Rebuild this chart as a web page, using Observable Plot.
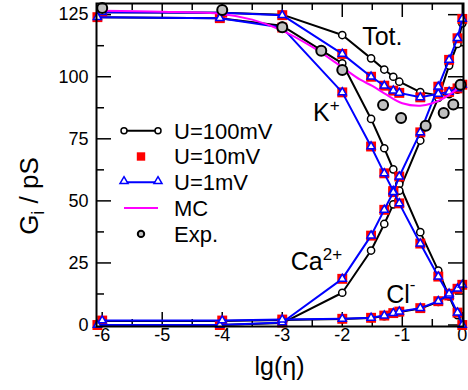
<!DOCTYPE html>
<html><head><meta charset="utf-8">
<script src="https://cdn.jsdelivr.net/npm/d3@7"></script>
<script src="https://cdn.jsdelivr.net/npm/@observablehq/plot@0.6"></script>
<style>
body{margin:0;background:#fff;}
#chart{position:relative;width:468px;height:390px;}
</style></head><body><div id="chart"></div>
<script>
// x positions lg(eta)
const xs  = [-6, -4, -3, -2, -1.52, -1.3, -1.15, -1.05, -0.7, -0.4, -0.22, -0.08, 0];
const xsK = [-6.08, -4.04, -3, -2, -1.52, -1.3, -1.15, -1.05, -0.7, -0.4, -0.22, -0.08, 0];

// U = 100 mV
const tot100 = [126, 125.8, 125, 116.8, 107.4, 102.9, 100.0, 98.0, 93.8, 92.5, 93.0, 94.8, 96.5];
const k100   = [124, 123.6, 120.5, 105.4, 83.0, 71.2, 62.7, 56.8, 37.4, 21.9, 11.5, 4.0, 0];
const ca100  = [0, 0, 0.8, 13.0, 30.0, 40.7, 48.6, 54.1, 74.3, 91.5, 104.5, 113.2, 121.5];
const cl100  = [1.6, 1.6, 2.0, 2.4, 2.8, 3.6, 4.6, 5.2, 6.6, 9.3, 12.3, 14.3, 15.9];
// U = 10 mV
const tot10 = [126, 125.8, 124.8, 109.2, 100.0, 96.4, 94.4, 93.5, 91.7, 93.1, 93.9, 95.3, 96.8];
const k10   = [124, 123.6, 119.8, 93.7, 71.9, 61.1, 54.0, 49.0, 32.8, 19.5, 11.9, 5.0, 0];
const ca10  = [0, 0, 1.0, 18.6, 36.0, 46.4, 53.5, 59.8, 77.6, 96.0, 106.8, 115.5, 123.3];
const cl10  = [1.8, 1.8, 2.2, 2.5, 2.9, 3.8, 4.8, 5.4, 6.8, 9.6, 12.6, 14.6, 16.2];
// U = 1 mV
const tot1 = [126, 125.8, 124.8, 109.2, 100.0, 96.4, 94.4, 93.5, 91.7, 93.1, 93.9, 95.3, 96.8];
const k1   = [124, 123.6, 119.8, 93.7, 71.9, 61.1, 54.0, 49.0, 32.8, 19.5, 11.9, 5.0, 0];
const ca1  = [0, 0, 1.0, 18.6, 36.0, 46.4, 53.5, 59.8, 77.6, 96.0, 106.8, 115.5, 123.3];
const cl1  = [1.8, 1.8, 2.2, 2.5, 2.9, 3.8, 4.8, 5.4, 6.8, 9.6, 12.6, 14.6, 16.2];
// MC (total)
const mcX = [-6, -5, -4, -3.5, -3, -2.5, -2, -1.7, -1.5, -1.3, -1, -0.7, -0.5, -0.3, -0.1, 0];
const mcY = [126.6, 126.2, 125.3, 123, 118.6, 112, 103.8, 98.8, 96.3, 93.3, 89.3, 88.3, 89.3, 91.5, 94.8, 96.5];
// Experiment
const expX = [-6, -4, -3, -2.35, -2.0, -1.32, -1.02, -0.61, -0.31, -0.15, -0.03];
const expY = [127.7, 126.9, 119.9, 110.5, 102.7, 88.6, 83.4, 80.3, 85.4, 88.8, 96.8];

// ticks
const majorX = [-6, -5, -4, -3, -2, -1, 0];
const minorX = [-5.5, -4.5, -3.5, -2.5, -1.5, -0.5];
const majorY = [0, 25, 50, 75, 100, 125];
const minorY = [12.5, 37.5, 62.5, 87.5, 112.5];

// legend + annotations
const legendLabels = ["U=100mV", "U=10mV", "U=1mV", "MC", "Exp."];
const annText = ["Tot.", "K", "Ca", "Cl"];
const annSup  = ["", "+", "2+", "-"];
const annX = [-1.66, -2.48, -2.85, -1.26];
const annY = [112.6, 82.0, 22.0, 8.7];

const ions = ["Tot", "K", "Ca", "Cl"];
const xFor = {Tot: xs, K: xsK, Ca: xsK, Cl: xs};
function build(v) {
  return ions.flatMap(ion => v[ion].map((y, i) => ({ion, x: xFor[ion][i], y})));
}
const u100 = build({Tot: tot100, K: k100, Ca: ca100, Cl: cl100});
const u10  = build({Tot: tot10, K: k10, Ca: ca10, Cl: cl10});
const u1   = build({Tot: tot1, K: k1, Ca: ca1, Cl: cl1});
const mc   = mcX.map((x, i) => ({x, y: mcY[i]}));
const exp  = expX.map((x, i) => ({x, y: expY[i]}));

const W = 468, H = 390, mL = 96, mR = 5, mT = 3, mB = 64;
const iw = W - mL - mR, ih = H - mT - mB;
const FONT = "'Liberation Sans', Arial, Helvetica, sans-serif";

const plot = Plot.plot({
  width: W, height: H, marginLeft: mL, marginRight: mR, marginTop: mT, marginBottom: mB,
  style: {fontFamily: FONT, fontSize: "18px", color: "black", background: "white", overflow: "visible"},
  x: {domain: [-6.095, 0.02], ticks: majorX, tickFormat: d => String(d), tickSize: 0, tickPadding: 2, label: null},
  y: {domain: [-0.6, 129.5], ticks: majorY, tickFormat: d => String(d), tickSize: 0, tickPadding: 8, label: null},
  marks: [
    Plot.tickX(majorX, {x: d => d, insetTop: ih - 14, stroke: "black", strokeWidth: 1.5}),
    Plot.tickX(majorX, {x: d => d, insetBottom: ih - 14, stroke: "black", strokeWidth: 1.5}),
    Plot.tickX(minorX, {x: d => d, insetTop: ih - 7, stroke: "black", strokeWidth: 1.5}),
    Plot.tickX(minorX, {x: d => d, insetBottom: ih - 7, stroke: "black", strokeWidth: 1.5}),
    Plot.tickY(majorY, {y: d => d, insetRight: iw - 15, stroke: "black", strokeWidth: 1.5}),
    Plot.tickY(majorY, {y: d => d, insetLeft: iw - 15, stroke: "black", strokeWidth: 1.5}),
    Plot.tickY(minorY, {y: d => d, insetRight: iw - 8, stroke: "black", strokeWidth: 1.5}),
    Plot.tickY(minorY, {y: d => d, insetLeft: iw - 8, stroke: "black", strokeWidth: 1.5}),
    Plot.line(u100, {x: "x", y: "y", z: "ion", stroke: "black", strokeWidth: 2}),
    Plot.dot(u100, {x: "x", y: "y", r: 3.6, stroke: "black", fill: "white", strokeWidth: 1.5}),
    Plot.dot(u10, {x: "x", y: "y", symbol: "square", r: 5.6, fill: "#ff0000", stroke: "none"}),
    Plot.line(u1, {x: "x", y: "y", z: "ion", stroke: "#0000ff", strokeWidth: 2}),
    Plot.dot(u1, {x: "x", y: "y", symbol: "triangle", r: 3.0, stroke: "#0000ff", fill: "white", strokeWidth: 1.5}),
    Plot.line(mc, {x: "x", y: "y", stroke: "#ff00ff", strokeWidth: 2, curve: "catmull-rom"}),
    Plot.dot(exp, {x: "x", y: "y", r: 5, fill: "#c0c0c0", stroke: "black", strokeWidth: 2}),
    Plot.frame({stroke: "black", strokeWidth: 2})
  ]
});
document.getElementById("chart").appendChild(plot);

const svg = d3.select(plot);
const sx = plot.scale("x"), sy = plot.scale("y");

// annotations
annText.forEach((t, i) => {
  const tx = svg.append("text")
    .attr("x", sx.apply(annX[i])).attr("y", sy.apply(annY[i]))
    .attr("text-anchor", "start")
    .attr("font-family", FONT).attr("font-size", 25).attr("fill", "black");
  tx.append("tspan").text(t);
  if (annSup[i]) {
    tx.append("tspan").attr("font-size", 17).attr("dy", i === 3 ? -13 : -10).text(annSup[i]);
  }
});

// y axis label
const yl = svg.append("text")
  .attr("transform", "translate(38,196) rotate(-90)")
  .attr("text-anchor", "middle")
  .attr("font-family", FONT).attr("font-size", 26).attr("fill", "black");
yl.append("tspan").text("G");
yl.append("tspan").attr("font-size", 18).attr("dy", 6).text("i");
yl.append("tspan").attr("dy", -6).text(" / pS");

// x axis label
svg.append("text")
  .attr("x", mL + iw / 2).attr("y", 375)
  .attr("text-anchor", "middle")
  .attr("font-family", FONT).attr("font-size", 25).attr("fill", "black")
  .text("lg(\u03b7)");

// legend
const lg = svg.append("g");
const lx0 = 124, lx1 = 158, lxm = 141, ltx = 174, ly0 = 130.7, ldy = 25.8;
legendLabels.forEach((lab, i) => {
  const y = ly0 + i * ldy;
  if (i === 0) {
    lg.append("line").attr("x1", lx0).attr("x2", lx1).attr("y1", y).attr("y2", y).attr("stroke", "black").attr("stroke-width", 2);
    [lx0, lx1].forEach(x => lg.append("circle").attr("cx", x).attr("cy", y).attr("r", 3).attr("fill", "white").attr("stroke", "black").attr("stroke-width", 1.5));
  } else if (i === 1) {
    lg.append("rect").attr("x", lxm - 4.2).attr("y", y - 4.2).attr("width", 8.4).attr("height", 8.4).attr("fill", "#ff0000");
  } else if (i === 2) {
    lg.append("line").attr("x1", lx0).attr("x2", lx1).attr("y1", y).attr("y2", y).attr("stroke", "#0000ff").attr("stroke-width", 2);
    [lx0, lx1].forEach(x => lg.append("path").attr("d", d3.symbol(d3.symbolTriangle, 28)()).attr("transform", `translate(${x},${y - 1})`).attr("fill", "white").attr("stroke", "#0000ff").attr("stroke-width", 1.5));
  } else if (i === 3) {
    lg.append("line").attr("x1", lx0).attr("x2", lx1).attr("y1", y).attr("y2", y).attr("stroke", "#ff00ff").attr("stroke-width", 2);
  } else {
    lg.append("circle").attr("cx", lxm).attr("cy", y).attr("r", 3.2).attr("fill", "#c0c0c0").attr("stroke", "black").attr("stroke-width", 2);
  }
  lg.append("text").attr("x", ltx).attr("y", y).attr("dy", "0.36em")
    .attr("text-anchor", "start")
    .attr("font-family", FONT).attr("font-size", 22).attr("fill", "black").text(lab);
});
</script>
</body></html>
